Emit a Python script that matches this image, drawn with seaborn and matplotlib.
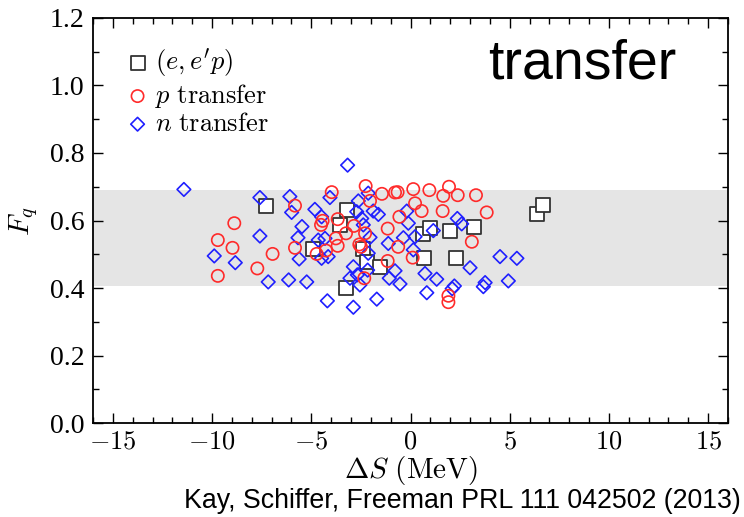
import matplotlib
matplotlib.use("Agg")
import matplotlib.pyplot as plt
from matplotlib.ticker import MultipleLocator, FuncFormatter, FormatStrFormatter
import seaborn as sns

sns.set_style("ticks")
plt.rcParams["font.family"] = ["Liberation Serif", "DejaVu Serif"]
plt.rcParams["mathtext.fontset"] = "cm"
plt.rcParams["text.color"] = "black"
plt.rcParams["axes.labelcolor"] = "black"
plt.rcParams["xtick.color"] = "black"
plt.rcParams["ytick.color"] = "black"

# (e,e'p) knockout
eep_ds = [-7.30, -3.22, -3.56, -4.90, -2.38, -2.21, -1.54, -3.25,
          0.62, 0.98, 1.99, 3.22, 0.70, 2.29, 6.39, 6.70]
eep_fq = [0.644, 0.631, 0.587, 0.516, 0.515, 0.478, 0.461, 0.400,
          0.560, 0.577, 0.570, 0.580, 0.490, 0.488, 0.618, 0.646]

# proton transfer
p_ds = [-8.88, -9.71, -8.97, -5.82, -5.82, -6.95, -7.72, -9.71,
        -2.26, -3.97, -1.44, -0.78, -0.65, 0.14, -2.04, 0.23, 0.56,
        -0.56, -4.43, -4.51, -3.67, -2.85, -3.25, -2.29, -1.15, -3.76,
        -3.67, -4.73, -4.26, -2.58, -2.50, -0.62, 0.11, -1.15, -2.33,
        0.95, 1.94, 1.65, 2.38, 3.30, 1.62, 3.84, 3.09, 1.91, 1.91]
p_fq = [0.592, 0.542, 0.519, 0.644, 0.519, 0.501, 0.458, 0.436,
        0.702, 0.684, 0.679, 0.683, 0.684, 0.693, 0.658, 0.651, 0.628,
        0.611, 0.599, 0.587, 0.604, 0.584, 0.562, 0.562, 0.576, 0.547,
        0.525, 0.501, 0.511, 0.529, 0.522, 0.522, 0.490, 0.480, 0.429,
        0.690, 0.700, 0.673, 0.675, 0.675, 0.628, 0.624, 0.537, 0.377, 0.358]

# neutron transfer
n_ds = [-11.42, -7.59, -6.08, -5.99, -5.47, -7.59, -5.67, -9.89, -8.83,
        -5.61, -7.17, -6.14, -5.23,
        -3.17, -4.06, -2.13, -2.63, -4.82, -4.48, -2.71, -2.46, -1.88,
        -1.62, -0.19, -0.11, -2.38, -2.04, 0.23, -0.36, -4.65, -4.31,
        -4.15, -4.48, -1.12, -2.13, 0.14, -2.88, -2.68, -3.05, -2.16,
        -0.78, -1.07, -2.55, -0.53, -4.19, -2.88, -1.70,
        2.36, 2.58, 1.15, 4.51, 5.36, 3.00, 0.73, 1.32, 2.21, 2.10,
        3.67, 3.76, 4.93, 0.82]
n_fq = [0.692, 0.668, 0.671, 0.624, 0.582, 0.554, 0.549, 0.495, 0.475,
        0.486, 0.418, 0.424, 0.418,
        0.764, 0.668, 0.681, 0.658, 0.633, 0.611, 0.626, 0.606, 0.628,
        0.618, 0.628, 0.592, 0.587, 0.550, 0.552, 0.549, 0.542, 0.547,
        0.493, 0.488, 0.532, 0.503, 0.513, 0.463, 0.439, 0.429, 0.453,
        0.451, 0.429, 0.409, 0.412, 0.362, 0.343, 0.367,
        0.606, 0.590, 0.570, 0.493, 0.488, 0.460, 0.443, 0.426, 0.406, 0.398,
        0.404, 0.416, 0.421, 0.386]

# spread of the quenching factor
band_lo, band_hi = 0.405, 0.690

fig = plt.figure(figsize=(7.44, 5.17), dpi=100)
ax = fig.add_axes([0.125, 0.1818, 0.8535, 0.7834])

ax.axhspan(band_lo, band_hi, color="#e5e5e5", lw=0, zorder=0)

sns.scatterplot(x=eep_ds, y=eep_fq, ax=ax, marker="s", s=105,
                color="#333333", facecolor="white", edgecolor="#333333",
                linewidth=1.3, label=r"$(e,e'p)$", zorder=3)
sns.scatterplot(x=n_ds, y=n_fq, ax=ax, marker="D", s=48,
                color="#1f1fff", facecolor="none", edgecolor="#1f1fff",
                linewidth=1.2, label=r"$n\ \mathrm{transfer}$", zorder=4)
sns.scatterplot(x=p_ds, y=p_fq, ax=ax, marker="o", s=78,
                color="#ff2a2a", facecolor="none", edgecolor="#ff2a2a",
                linewidth=1.2, label=r"$p\ \mathrm{transfer}$", zorder=5)

ax.set_xlim(-16, 16)
ax.set_ylim(0, 1.2)
ax.xaxis.set_major_locator(MultipleLocator(5))
ax.xaxis.set_minor_locator(MultipleLocator(1))
ax.yaxis.set_major_locator(MultipleLocator(0.2))
ax.yaxis.set_minor_locator(MultipleLocator(0.1))
ax.xaxis.set_major_formatter(FuncFormatter(lambda v, p: f"${int(round(v))}$"))
ax.yaxis.set_major_formatter(FormatStrFormatter("%.1f"))

ax.tick_params(which="both", direction="in", top=True, right=True,
               width=1.0, colors="black")
ax.tick_params(which="major", length=7, pad=6)
ax.tick_params(axis="x", which="major", labelsize=19)
ax.tick_params(axis="y", which="major", labelsize=20)
ax.tick_params(which="minor", length=4.5)
for sp in ax.spines.values():
    sp.set_linewidth(1.3)
    sp.set_color("black")

ax.set_xlabel(r"$\Delta S\ (\mathrm{MeV})$", fontsize=21)
ax.set_ylabel(r"$F_q$", fontsize=21)
ax.xaxis.set_label_coords(0.5, -0.077)
ax.yaxis.set_label_coords(-0.083, 0.5)

handles, labels = ax.get_legend_handles_labels()
order = [labels.index(r"$(e,e'p)$"), labels.index(r"$p\ \mathrm{transfer}$"),
         labels.index(r"$n\ \mathrm{transfer}$")]
ax.legend([handles[i] for i in order], [labels[i] for i in order],
          loc="upper left", bbox_to_anchor=(0.039, 0.955), frameon=False,
          fontsize=19, handlelength=0.7, handletextpad=0.3,
          labelspacing=0.1, borderaxespad=0, scatterpoints=1)

fig.text(0.656, 0.849, "transfer", fontsize=40, family="Liberation Sans",
         va="baseline", ha="left")
fig.text(0.995, 0.017, "Kay, Schiffer, Freeman PRL 111 042502 (2013)",
         fontsize=19.3, family="Liberation Sans", va="baseline", ha="right")

fig.savefig("out.png", dpi=100)
